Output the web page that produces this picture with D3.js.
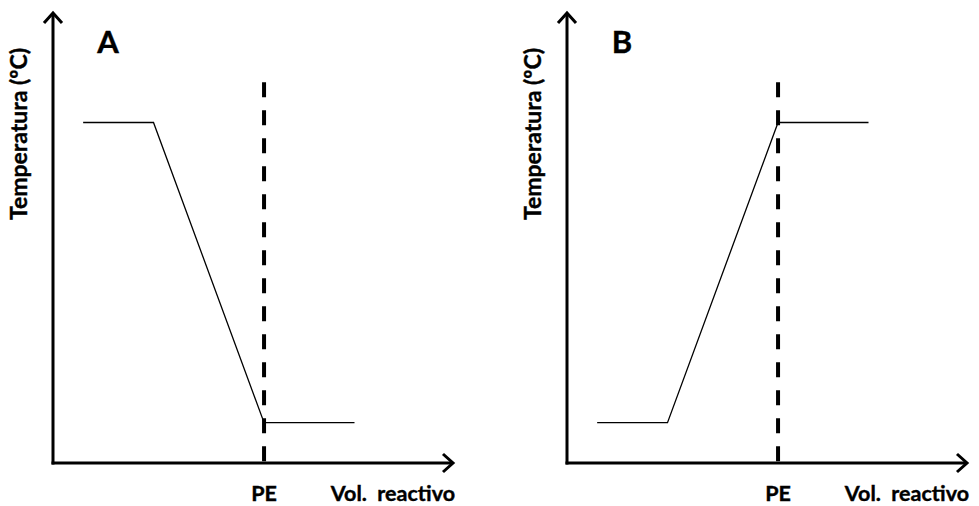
<!DOCTYPE html>
<html>
<head>
<meta charset="utf-8">
<script src="https://cdn.jsdelivr.net/npm/d3@7"></script>
<style>
  body { margin: 0; background: #fff; }
  text { font-family: Lato, "Open Sans", sans-serif; font-weight: bold; fill: #000; stroke: #000; stroke-width: 0.4px; }
</style>
</head>
<body>
<div id="chart"></div>
<script>
// data, in arbitrary units: vol 0..100, temp 0..100
const panels = ['A', 'B'];
const curveA = [
  { vol: 7.5, temp: 76 },
  { vol: 25, temp: 76 },
  { vol: 52.5, temp: 9 },
  { vol: 75, temp: 9 }
];
const curveB = [
  { vol: 7.5, temp: 9 },
  { vol: 25, temp: 9 },
  { vol: 52.5, temp: 76 },
  { vol: 75, temp: 76 }
];
const peVol = 52.5;
const peTop = 85;
const xLabel = 'Vol.  reactivo';
const yLabel = 'Temperatura (ºC)';
const peLabel = 'PE';

const W = 979, H = 506;
const svg = d3.select('#chart').append('svg')
  .attr('width', W)
  .attr('height', H);

const y = d3.scaleLinear().domain([0, 100]).range([463, 15]);

function drawPanel(name, data, left) {
  const x = d3.scaleLinear().domain([0, 100]).range([left, left + 402]);
  const g = svg.append('g');
  const x0 = x(0), y0 = y(0);
  const axEnd = x0 + 401, axTop = 12;

  // axes
  g.append('line').attr('x1', x0).attr('y1', y0 + 1.5).attr('x2', x0).attr('y2', axTop + 1)
    .attr('stroke', '#000').attr('stroke-width', 3);
  g.append('line').attr('x1', x0 - 1.5).attr('y1', y0).attr('x2', axEnd - 1).attr('y2', y0)
    .attr('stroke', '#000').attr('stroke-width', 3);

  // arrow heads
  g.append('path')
    .attr('d', `M${x0 - 9},${axTop + 11}L${x0},${axTop + 1}L${x0 + 9},${axTop + 11}`)
    .attr('fill', 'none').attr('stroke', '#000').attr('stroke-width', 3);
  g.append('path')
    .attr('d', `M${axEnd - 11},${y0 - 9}L${axEnd - 1},${y0}L${axEnd - 11},${y0 + 9}`)
    .attr('fill', 'none').attr('stroke', '#000').attr('stroke-width', 3);

  // equivalence point
  g.append('line')
    .attr('x1', x(peVol)).attr('x2', x(peVol))
    .attr('y1', y(peTop)).attr('y2', y(0))
    .attr('stroke', '#000').attr('stroke-width', 4)
    .attr('stroke-dasharray', '15,13');

  const line = d3.line().x(d => x(d.vol)).y(d => y(d.temp));
  g.append('path').datum(data)
    .attr('d', line)
    .attr('fill', 'none').attr('stroke', '#000').attr('stroke-width', 1.3);

  // labels
  g.append('text').attr('x', x0 + 55).attr('y', 53)
    .attr('text-anchor', 'middle').style('font-size', '31px').text(name);
  g.append('text')
    .attr('transform', `translate(${x0 - 26},134) rotate(-90)`)
    .attr('text-anchor', 'middle').style('font-size', '23px').text(yLabel);
  g.append('text').attr('x', x(peVol)).attr('y', 501)
    .attr('text-anchor', 'middle').style('font-size', '21.5px').text(peLabel);
  g.append('text').attr('x', axEnd + 1).attr('y', 501)
    .attr('text-anchor', 'end').style('font-size', '21.5px').style('white-space', 'pre')
    .text(xLabel);
}

drawPanel(panels[0], curveA, 53);
drawPanel(panels[1], curveB, 567);
</script>
</body>
</html>
